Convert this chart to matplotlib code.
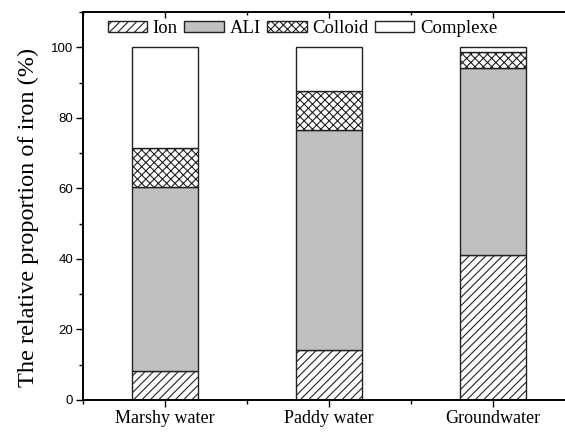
import numpy as np
import matplotlib
matplotlib.use('Agg')
import matplotlib.pyplot as plt
from matplotlib.ticker import MultipleLocator

# data (percent of total iron)
sites = ['Marshy water', 'Paddy water', 'Groundwater']
ion = [8.3, 14.2, 41.1]
ali = [52.0, 62.3, 53.1]
colloid = [11.0, 11.0, 4.5]
complexe = [28.7, 12.5, 1.3]

series_names = ['Ion', 'ALI', 'Colloid', 'Complexe']
series_vals = [ion, ali, colloid, complexe]
series_face = ['white', '#c0c0c0', 'white', 'white']
series_hatch = ['////', None, 'xxxx', None]

serif = ['Liberation Serif', 'DejaVu Serif']
sans = ['Liberation Sans', 'DejaVu Sans']

plt.rcParams['hatch.linewidth'] = 0.8
plt.rcParams['hatch.color'] = 'black'

fig = plt.figure(figsize=(5.65, 4.37), dpi=100)
ax = fig.add_axes([0.147, 0.085, 0.871, 0.8875])

x = np.arange(1, len(sites) + 1)
bottom = np.zeros(len(sites))
for name, vals, fc, hatch in zip(series_names, series_vals, series_face, series_hatch):
    ax.bar(x, vals, width=0.4, bottom=bottom, color=fc, hatch=hatch,
           edgecolor='#222222', linewidth=1.0, label=name)
    bottom += np.array(vals)

ax.set_xlim(0.5, 3.5)
ax.set_ylim(0, 110)
ax.set_xticks(x)
ax.set_xticklabels(sites, fontfamily=serif, fontsize=13)
ax.xaxis.set_minor_locator(MultipleLocator(0.5))
ax.yaxis.set_major_locator(MultipleLocator(20))
ax.yaxis.set_minor_locator(MultipleLocator(10))
for lab in ax.get_yticklabels():
    lab.set_fontfamily(sans)
    lab.set_fontsize(9.5)

# bottom and left ticks point out, mirrored top ticks point in
ax.tick_params(axis='y', which='major', direction='out', length=5, width=1, pad=2)
ax.tick_params(axis='y', which='minor', direction='out', length=3, width=1)
ax.tick_params(axis='x', which='major', direction='out', length=5, width=1, pad=2)
ax.tick_params(axis='x', which='minor', direction='out', length=3, width=1)
top = ax.twiny()
top.set_xlim(ax.get_xlim())
top.set_xticks(x)
top.xaxis.set_minor_locator(MultipleLocator(0.5))
top.set_xticklabels([])
top.tick_params(axis='x', which='major', direction='in', length=4, width=1)
top.tick_params(axis='x', which='minor', direction='in', length=2, width=1)
for a in (ax, top):
    for s in a.spines.values():
        s.set_linewidth(1.2)
    a.spines['right'].set_visible(False)

ax.set_ylabel('The relative proportion of iron (%)', fontfamily=serif, fontsize=17.5)
ax.yaxis.set_label_coords(-0.09, 0.47)

leg = ax.legend(ncol=4, loc='upper left', bbox_to_anchor=(0.035, 0.998), frameon=False,
                prop={'family': serif, 'size': 13.5}, handlelength=2.1, handleheight=0.55,
                handletextpad=0.3, columnspacing=0.35, borderaxespad=0.0)

fig.savefig('out.png', dpi=100)
